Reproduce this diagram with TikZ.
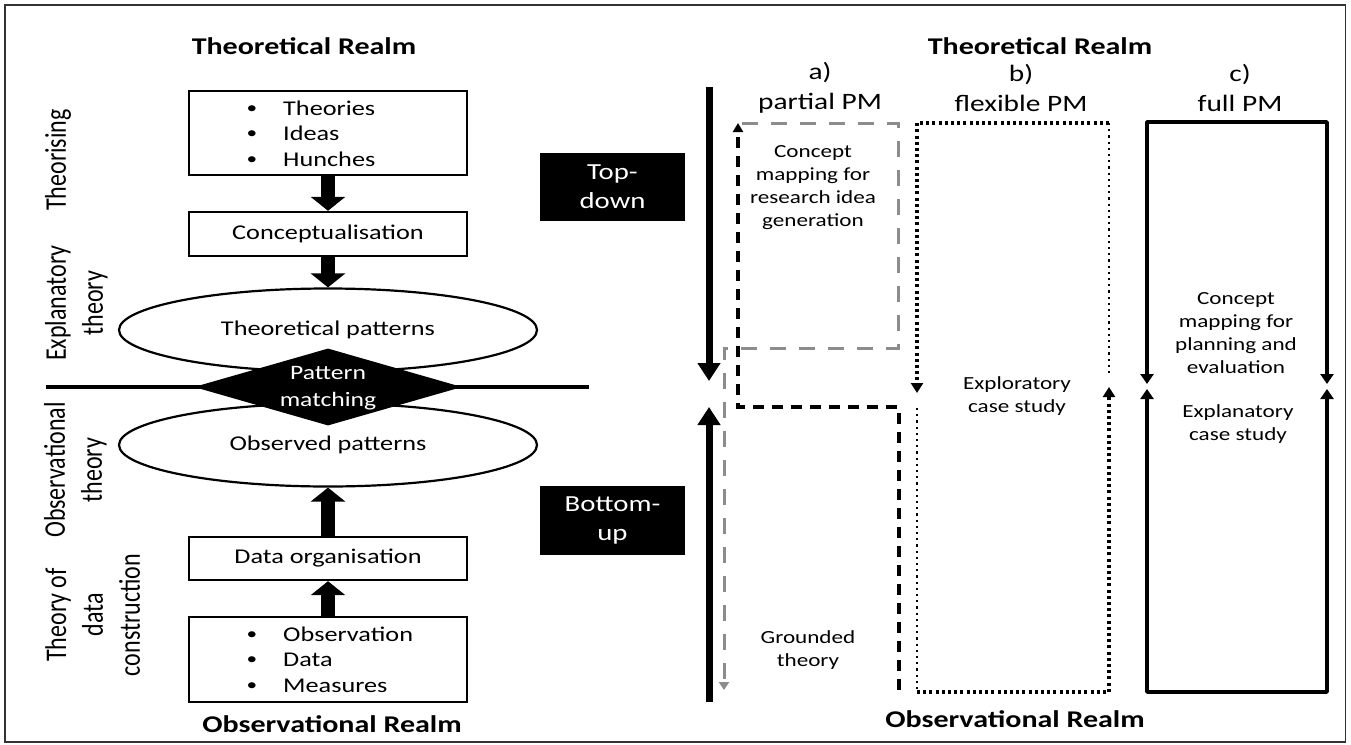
\documentclass[tikz,border=0pt]{standalone}
\usepackage{fontspec}
\setmainfont[FakeStretch=1.25]{Carlito}
\newfontfamily\vfont{Carlito}
\usetikzlibrary{arrows.meta,shapes.geometric}
\begin{document}
\begin{tikzpicture}[x=1pt,y=-1pt,
  box/.style={draw, line width=2.4pt, minimum width=278pt, inner sep=0pt, font=\fontsize{21}{25.5}\selectfont},
  oval/.style={draw, ellipse, fill=white, line width=2.2pt, minimum width=418pt, minimum height=83pt, inner sep=0pt, font=\fontsize{21}{25.5}\selectfont},
  itemtxt/.style={anchor=base west, inner sep=0pt, font=\fontsize{21}{25.5}\selectfont},
  bul/.style={anchor=base, inner sep=0pt, font=\fontsize{17}{25.5}\selectfont},
  blk/.style={fill=black, text=white, minimum width=145pt, inner sep=0pt, align=center, font=\fontsize{23}{29}\selectfont},
  bigarrow/.style={line width=14pt, -{Triangle[width=34pt,length=14pt]}},
  realm/.style={font=\bfseries\fontsize{24}{28}\selectfont, inner sep=0pt},
  vlab/.style={rotate=90, inner sep=0pt, font=\vfont\fontsize{24}{29.5}\selectfont},
  lab/.style={align=center, inner sep=0pt, font=\fontsize{23.5}{30}\selectfont},
  small/.style={align=center, inner sep=0pt, font=\fontsize{18.5}{23}\selectfont},
  mainarrow/.style={line width=7pt, -{Triangle[width=22pt,length=18pt]}},
  blackdash/.style={line width=3.2pt, dash pattern=on 11pt off 8pt},
  greydash/.style={draw=gray!90, line width=3pt, dash pattern=on 16pt off 13pt},
  heavydot/.style={line width=4pt, dash pattern=on 3pt off 3.2pt},
  lightdot/.style={line width=2.2pt, dash pattern=on 2.2pt off 4pt},
  solidpm/.style={line width=3.5pt, line join=round}
]
\useasboundingbox (0,0) rectangle (1351,744);
\fill[white] (0,0) rectangle (1351,744);
\draw[line width=1.5pt, black!80] (5,5) rectangle (1345.5,742);

% ---------- left part ----------
\node[realm] (tr1) at (304,46) {Theoretical Realm};
\node[realm] (or1) at (332,724) {Observational Realm};

\draw[line width=4pt] (46,387) -- (589,387);

\node[box, minimum height=84pt] (b1) at (328,133) {};
\node[box, minimum height=44pt] (b2) at (328,234) {Conceptualisation};
\node[oval] (e1) at (328,330) {Theoretical patterns};
\node[oval] (e2) at (328,445) {Observed patterns};
\node[box, minimum height=43pt] (b3) at (328,558.5) {Data organisation};
\node[box, minimum height=85pt] (b4) at (328,659.5) {};

\node[diamond, fill=black, minimum width=268pt, minimum height=77pt, inner sep=0pt] (dm) at (328,387) {};
\node[align=center, text=white, inner sep=0pt, font=\fontsize{20.5}{27}\selectfont] (pm) at (328,388) {Pattern\\matching};

\foreach \t [count=\i] in {Theories,Ideas,Hunches}{
  \node[bul] (tb\i) at (252,{113+25.5*(\i-1)}) {\textbullet};
  \node[itemtxt] (ti\i) at (283,{115+25.5*(\i-1)}) {\t};
}
\foreach \t [count=\i] in {Observation,Data,Measures}{
  \node[bul] (ob\i) at (252,{639+25.5*(\i-1)}) {\textbullet};
  \node[itemtxt] (oi\i) at (283,{641+25.5*(\i-1)}) {\t};
}

\draw[bigarrow] (b1.south) -- (b2.north);
\draw[bigarrow] (b2.south) -- (e1.north);
\draw[bigarrow] (b3.north) -- (e2.south);
\draw[bigarrow] (b4.north) -- (b3.south);

\node[vlab] (v1) at (58,160) {\scalebox{1}[1.25]{Theorising}};
\node[vlab] (v2) at (77,303) {\scalebox{1}[1.25]{\begin{tabular}{@{}c@{}}Explanatory\\theory\end{tabular}}};
\node[vlab] (v3) at (76,470) {\scalebox{1}[1.25]{\begin{tabular}{@{}c@{}}Observational\\theory\end{tabular}}};
\node[vlab] (v4) at (95.5,615) {\scalebox{1}[1.25]{\begin{tabular}{@{}c@{}}Theory of\\data\\construction\end{tabular}}};

\node[blk, minimum height=68pt] (td) at (612.5,187) {Top-\\down};
\node[blk, minimum height=69pt] (bu) at (612.5,520.5) {Bottom-\\up};

% ---------- right part ----------
\node[realm] (tr2) at (1040,46) {Theoretical Realm};
\node[realm] (or2) at (1015,719) {Observational Realm};

\node[lab] (la) at (820,88) {a)\\partial PM};
\node[lab] (lb) at (1021,88) {b)\\flexible PM};
\node[lab] (lc) at (1240,88) {c)\\full PM};

\coordinate (d1) at (709,87);  \coordinate (d2) at (709,381);
\coordinate (u1) at (709,702); \coordinate (u2) at (709,407);
\draw[mainarrow] (d1) -- (d2);
\draw[mainarrow] (u1) -- (u2);

% a) partial PM
\coordinate (a1) at (899,690); \coordinate (a2) at (899,407);
\coordinate (a3) at (738,407); \coordinate (a4) at (738,123);
\draw[blackdash, -{Triangle[width=10pt,length=9pt]}] (a1) -- (a2) -- (a3) -- (a4);
\coordinate (g1) at (742,123); \coordinate (g2) at (898,123);
\coordinate (g3) at (898,348); \coordinate (g4) at (724,348);
\coordinate (g5) at (724,690);
\draw[greydash, -{Triangle[width=10pt,length=8pt,fill=gray!90]}] (g1) -- (g2) -- (g3) -- (g4) -- (g5);

\node[small] (ta) at (813,187.5) {Concept\\mapping for\\research idea\\generation};
\node[small] (tg) at (808,650) {Grounded\\theory};

% b) flexible PM
\coordinate (f1) at (1109,123); \coordinate (f2) at (917,123);
\coordinate (f3) at (917,393);  \coordinate (f4) at (1109,376);
\coordinate (f5) at (917,408);  \coordinate (f6) at (917,692);
\coordinate (f7) at (1109,692); \coordinate (f8) at (1109,387);
\draw[heavydot, -{Triangle[width=12pt,length=10pt]}] (f1) -- (f2) -- (f3);
\draw[lightdot] (f1) -- (f4);
\draw[lightdot] (f5) -- (f6);
\draw[heavydot, -{Triangle[width=12pt,length=10pt]}] (f6) -- (f7) -- (f8);
\node[small] (tb) at (1017,396.5) {Exploratory\\case study};

% c) full PM
\coordinate (c1) at (1147,384); \coordinate (c2) at (1147,122);
\coordinate (c3) at (1327,122); \coordinate (c4) at (1327,384);
\coordinate (c5) at (1147,389); \coordinate (c6) at (1147,692);
\coordinate (c7) at (1327,692); \coordinate (c8) at (1327,389);
\draw[solidpm, {Triangle[width=13pt,length=10pt]}-{Triangle[width=13pt,length=10pt]}] (c1) -- (c2) -- (c3) -- (c4);
\draw[solidpm, {Triangle[width=13pt,length=10pt]}-{Triangle[width=13pt,length=10pt]}] (c5) -- (c6) -- (c7) -- (c8);
\node[small] (tc1) at (1236,333) {Concept\\mapping for\\planning and\\evaluation};
\node[small] (tc2) at (1238,424.5) {Explanatory\\case study};
\end{tikzpicture}
\end{document}
